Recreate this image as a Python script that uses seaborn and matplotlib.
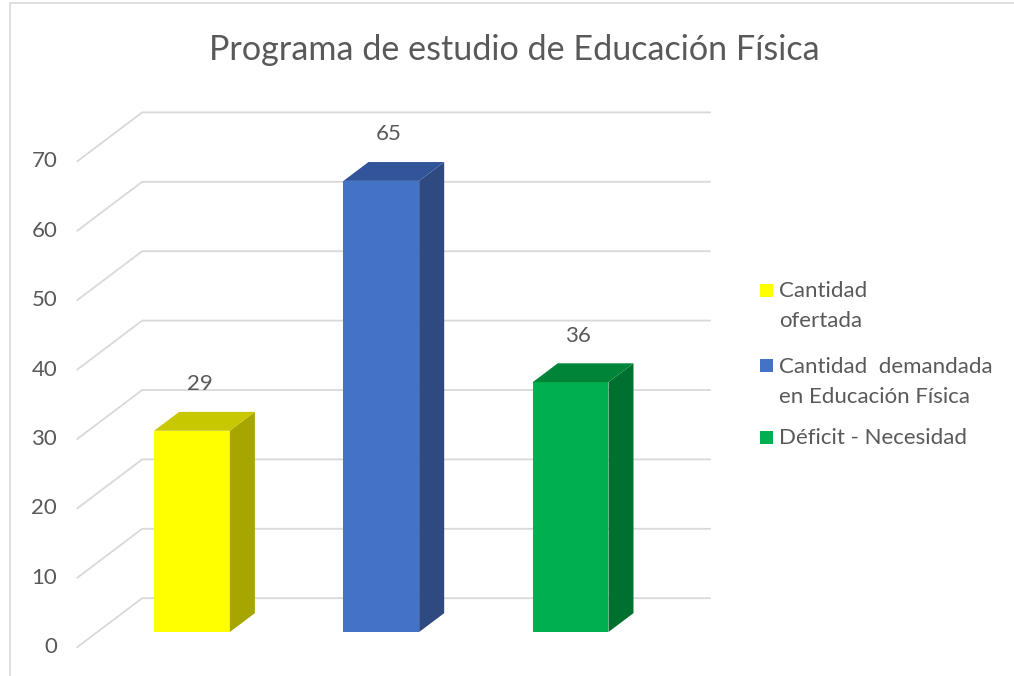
import numpy as np
import matplotlib
matplotlib.use("Agg")
import matplotlib.pyplot as plt
from matplotlib.patches import Polygon, Rectangle
import seaborn as sns

# datos del gráfico
categorias = ["Cantidad\nofertada", "Cantidad  demandada\nen Educación Física", "Déficit - Necesidad"]
valores = [29, 65, 36]
y_ticks = [0, 10, 20, 30, 40, 50, 60, 70]
titulo = "Programa de estudio de Educación Física"

color_frente = ["#FFFF00", "#4472C4", "#00B050"]
color_lado = ["#A6A600", "#2E4A80", "#00702F"]
color_tapa = ["#C8C800", "#32559A", "#008538"]
gris_txt = "#595959"
gris_linea = "#D9D9D9"

sns.set_style("white")
plt.rcParams["font.family"] = ["Lato", "DejaVu Sans"]

W, H = 1014, 676
fig = plt.figure(figsize=(W / 100, H / 100), dpi=100)
ax = fig.add_axes([0, 0, 1, 1])

# escala: px por categoría y por unidad
X0, SX = 192.0, 189.3
Y0, SY = 632.0, 6.94
DX, DV = 65 / SX, 49 / SY        # profundidad completa en unidades de datos
D0, D1 = 0.31, 0.695             # frente / fondo de las barras


def proj(x, v, d):
    return x + DX * (d - D0), v + DV * (d - D0)


df_cat = list(range(len(valores)))
sns.barplot(x=df_cat, y=valores, hue=df_cat, palette=color_frente, width=0.40,
            legend=False, ax=ax, saturation=1, zorder=3, linewidth=0)

# paredes: líneas de la pared lateral y del fondo
x_izq, x_der = -0.5, 2.5
for t in y_ticks:
    a = proj(x_izq, t, 0)
    b = proj(x_izq, t, 1)
    c = proj(x_der, t, 1)
    ax.plot([a[0], b[0], c[0]], [a[1], b[1], c[1]], color=gris_linea, lw=1.3,
            zorder=1, solid_joinstyle="miter")
    ax.text(a[0] - 20 / SX, a[1], str(t), ha="right", va="center",
            fontsize=16, color=gris_txt)

# caras laterales y superiores de las barras
for i, p in enumerate(ax.patches):
    xl = p.get_x()
    xr = xl + p.get_width()
    v = p.get_height()
    lado = [proj(xr, 0, D0), proj(xr, v, D0), proj(xr, v, D1), proj(xr, 0, D1)]
    tapa = [proj(xl, v, D0), proj(xr, v, D0), proj(xr, v, D1), proj(xl, v, D1)]
    ax.add_patch(Polygon(lado, closed=True, fc=color_lado[i], ec="none", zorder=3))
    ax.add_patch(Polygon(tapa, closed=True, fc=color_tapa[i], ec="none", zorder=3))
    ax.text(xl + p.get_width() / 2 + 0.04, v + 6.7, str(int(v)), ha="center",
            va="center", fontsize=16, color=gris_txt)

ax.set_xlim(-X0 / SX, (W - X0) / SX)
ax.set_ylim((Y0 - H) / SY, Y0 / SY)
ax.axis("off")

# título
fig.text(514 / W, 1 - 50 / H, titulo, ha="center", va="center", fontsize=24.6,
         color=gris_txt)

# leyenda
ley_y = [290, 366, 437]
for i, (lab, y) in enumerate(zip(categorias, ley_y)):
    fig.patches.append(Rectangle((760 / W, 1 - (y + 6.5) / H), 13 / W, 13 / H,
                                 transform=fig.transFigure, fc=color_frente[i],
                                 ec="none"))
    fig.text(779 / W, 1 - (y - 9) / H, lab, ha="left", va="top", fontsize=16,
             color=gris_txt, linespacing=1.6)

# borde del área del gráfico
fig.patches.append(Rectangle((10 / W, -0.01), 1.0, 1 - 3 / H + 0.01,
                             transform=fig.transFigure, fc="none",
                             ec=gris_linea, lw=1.2))

fig.savefig("out.png", dpi=100)
